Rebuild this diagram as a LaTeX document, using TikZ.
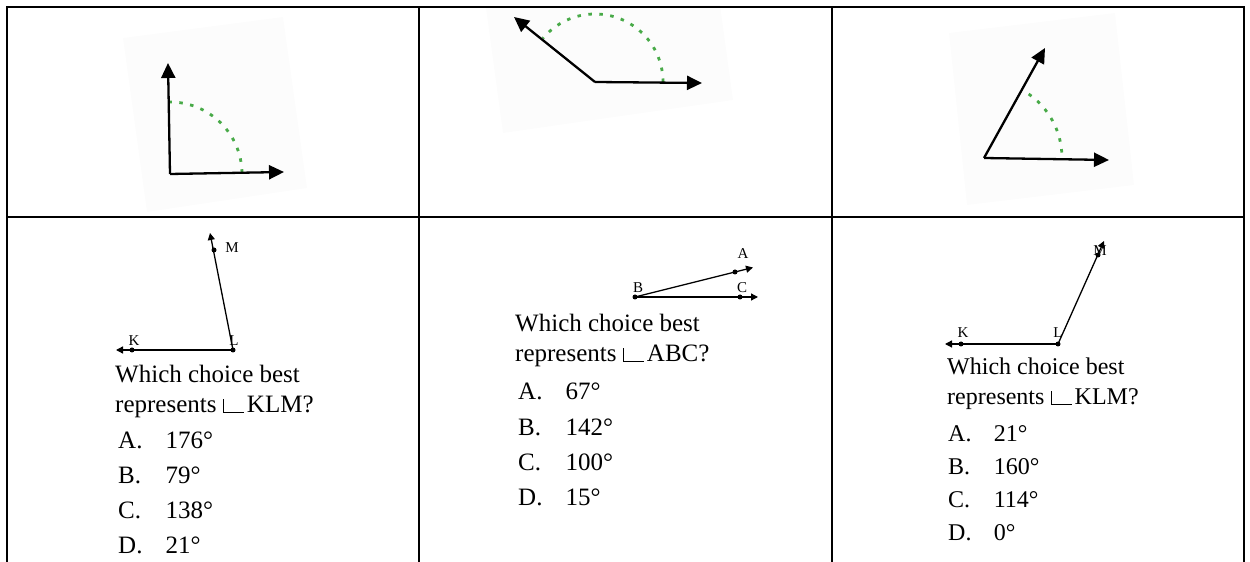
\documentclass[tikz,border=0pt]{standalone}
\usepackage{fontspec}
\setmainfont{Liberation Serif}
\usetikzlibrary{arrows.meta, positioning}
\definecolor{arcgreen}{RGB}{72,170,72}
\newcommand{\angsym}{\rule{1.2pt}{14pt}\rule{20pt}{1.2pt}\hspace{3pt}}
\newcommand{\opt}[2]{\makebox[1.9em][l]{#1.}#2°}
\tikzset{
  gridline/.style={line width=2pt},
  ray/.style={-{Triangle[length=15pt,width=14pt]}, line width=2.3pt},
  arcdot/.style={arcgreen, line width=2.8pt, dash pattern=on 3.5pt off 7.5pt},
  paper/.style={fill=black!1.2, draw=none},
  pt/.style={circle, fill, inner sep=0pt, minimum size=5pt},
  lineray/.style={-{Triangle[length=7pt,width=7pt]}, line width=1.3pt},
  lbl/.style={font=\fontsize{15}{15}\selectfont, inner sep=0pt},
  qtext/.style={anchor=base west, inner sep=0pt, font=\fontsize{25}{30}\selectfont},
  qsmall/.style={qtext, font=\fontsize{24}{29}\selectfont},
}
\begin{document}
\begin{tikzpicture}[x=1pt, y=1pt]
  \useasboundingbox (0,0) rectangle (1250,562);

  % faint scanned backgrounds
  \fill[paper] (123,524) -- (283,545) -- (307,374) -- (147,350) -- cycle;
  \fill[paper] (486,554) -- (720,557) -- (733,462) -- (503,429) -- cycle;
  \fill[paper] (949,529) -- (1115,549) -- (1134,377) -- (967,357) -- cycle;

  % table
  \draw[gridline] (7,0) -- (7,555) -- (1244,555) -- (1244,0);
  \draw[gridline] (7,345) -- (1244,345);
  \draw[gridline] (419,0) -- (419,555);
  \draw[gridline] (832,0) -- (832,555);

  % top row: angles
  \coordinate (v1) at (170,388);
  \coordinate (v1up) at (168,499);
  \coordinate (v1rt) at (284,390);
  \draw[arcdot] ([shift={(1:72)}]v1) arc[start angle=1, end angle=91, radius=72];
  \draw[ray] (v1) -- (v1up);
  \draw[ray] (v1) -- (v1rt);

  \coordinate (v2) at (595,480);
  \coordinate (v2up) at (514,545);
  \coordinate (v2rt) at (702,479);
  \draw[arcdot] ([shift={(0:68)}]v2) arc[start angle=0, end angle=140, radius=68];
  \draw[ray] (v2) -- (v2up);
  \draw[ray] (v2) -- (v2rt);

  \coordinate (v3) at (984,404);
  \coordinate (v3up) at (1045,514);
  \coordinate (v3rt) at (1109,402);
  \draw[arcdot] ([shift={(4:78)}]v3) arc[start angle=4, end angle=61, radius=78];
  \draw[ray] (v3) -- (v3up);
  \draw[ray] (v3) -- (v3rt);

  % bottom left: KLM
  \node[pt] (k1) at (132,212) {};
  \node[pt] (l1) at (233,212) {};
  \node[pt] (m1) at (214,312) {};
  \coordinate (k1end) at (116,212);
  \coordinate (m1end) at (210,329);
  \draw[lineray] (l1.center) -- (k1end);
  \draw[lineray] (l1.center) -- (m1end);
  \node[lbl] at (134,221.5) {K};
  \node[lbl] at (234,221.5) {L};
  \node[lbl] at (232,314.5) {M};

  \node[qtext] (q1a) at (115,179) {Which choice best};
  \node[qtext] (q1b) at ([yshift=-30pt]q1a.base west) {represents \angsym KLM?};
  \node[qtext] (c1a) at (118,113) {\opt{A}{176}};
  \node[qtext] (c1b) at (118,78) {\opt{B}{79}};
  \node[qtext] (c1c) at (118,43) {\opt{C}{138}};
  \node[qtext] (c1d) at (118,9) {\opt{D}{21}};

  % bottom middle: ABC
  \node[pt] (b2) at (635,265) {};
  \node[pt] (c2) at (740,265) {};
  \node[pt] (a2) at (735,290) {};
  \coordinate (c2end) at (758,265);
  \coordinate (a2end) at (753,294.5);
  \draw[lineray] (b2.center) -- (c2end);
  \draw[lineray] (b2.center) -- (a2end);
  \node[lbl] at (638,274.5) {B};
  \node[lbl] at (743,308) {A};
  \node[lbl] at (742,274.5) {C};

  \node[qtext] (q2a) at (515,230) {Which choice best};
  \node[qtext] (q2b) at ([yshift=-30pt]q2a.base west) {represents \angsym ABC?};
  \node[qtext] (c2a) at (518,162) {\opt{A}{67}};
  \node[qtext] (c2b) at (518,126) {\opt{B}{142}};
  \node[qtext] (c2c) at (518,91) {\opt{C}{100}};
  \node[qtext] (c2d) at (518,56) {\opt{D}{15}};

  % bottom right: KLM
  \node[pt] (k3) at (961,218) {};
  \node[pt] (l3) at (1058,218) {};
  \node[pt] (m3) at (1098,307) {};
  \coordinate (k3end) at (945,218);
  \coordinate (m3end) at (1104,321);
  \draw[lineray] (l3.center) -- (k3end);
  \draw[lineray] (l3.center) -- (m3end);
  \node[lbl] at (963,229) {K};
  \node[lbl] at (1058,229) {L};
  \node[lbl] at (1100,311) {M};

  \node[qsmall] (q3a) at (947,187) {Which choice best};
  \node[qsmall] (q3b) at ([yshift=-30pt]q3a.base west) {represents \angsym KLM?};
  \node[qsmall] (c3a) at (948,120) {\opt{A}{21}};
  \node[qsmall] (c3b) at (948,87) {\opt{B}{160}};
  \node[qsmall] (c3c) at (948,54) {\opt{C}{114}};
  \node[qsmall] (c3d) at (948,21) {\opt{D}{0}};
\end{tikzpicture}
\end{document}
